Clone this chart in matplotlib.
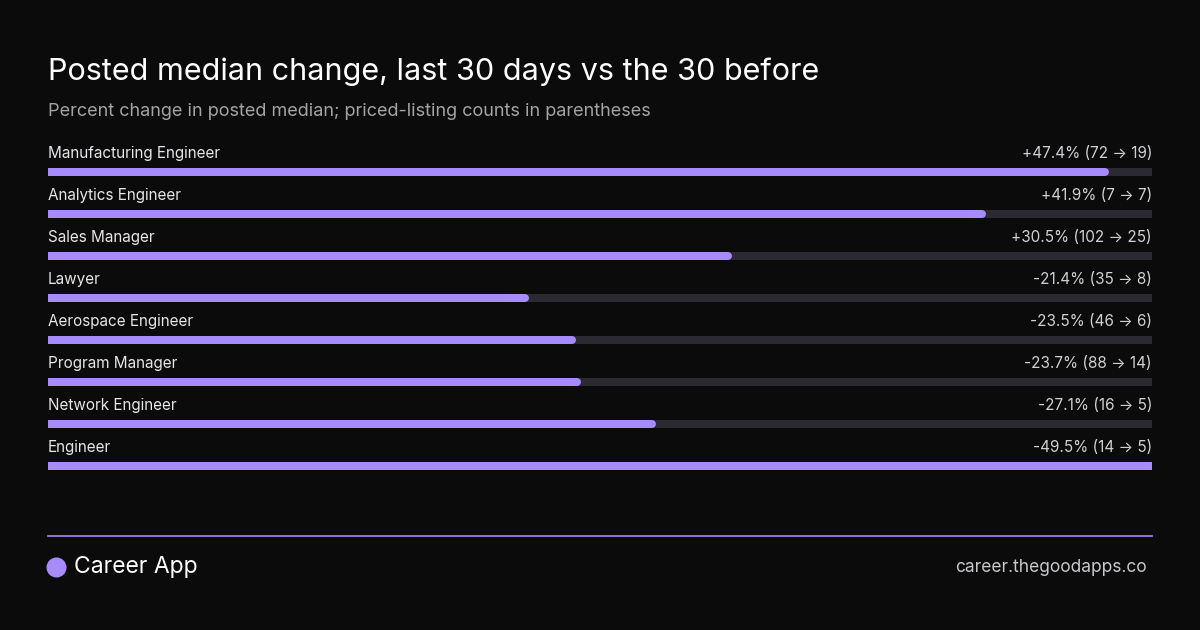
import matplotlib
matplotlib.use('Agg')
import matplotlib.pyplot as plt

# Data.
roles = ['Manufacturing Engineer', 'Analytics Engineer', 'Sales Manager', 'Lawyer',
         'Aerospace Engineer', 'Program Manager', 'Network Engineer', 'Engineer']
changes = [47.4, 41.9, 30.5, -21.4, -23.5, -23.7, -27.1, -49.5]
before = [72, 7, 102, 35, 46, 88, 16, 14]
after = [19, 7, 25, 8, 6, 14, 5, 5]

BG = '#0b0b0c'
PURPLE = '#a78bfa'
TRACK = '#2b2a33'
plt.rcParams['font.family'] = ['Inter', 'DejaVu Sans']

W, H = 1200, 630
fig = plt.figure(figsize=(12, 6.3), dpi=100, facecolor=BG)

# Full-figure overlay in pixel units for titles and footer.
ov = fig.add_axes([0, 0, 1, 1])
ov.set_xlim(0, W)
ov.set_ylim(H, 0)
ov.axis('off')
ov.text(48, 72, 'Posted median change, last 30 days vs the 30 before', color='white',
        fontsize=22, va='center')
ov.text(48, 111, 'Percent change in posted median; priced-listing counts in parentheses',
        color='#a3a3a8', fontsize=13, va='center')
ov.plot([48, 1152], [536, 536], color=PURPLE, lw=1.2)
ov.scatter([56], [567], s=180, color=PURPLE, zorder=3)
ov.text(74, 567, 'Career App', color='white', fontsize=16.5, va='center')
ov.text(1147, 567, 'career.thegoodapps.co', color='#c8c8cc', fontsize=12.5,
        va='center', ha='right')

# Bars axes: rows in index units, x in percent magnitude.
top_px, bot_px = 172 - 0.8 * 42, 172 + 7.5 * 42
ax = fig.add_axes([48 / W, 1 - bot_px / H, 1104 / W, (bot_px - top_px) / H])
ax.set_facecolor('none')
ax.axis('off')
vmax = max(abs(c) for c in changes)
ax.set_xlim(0, vmax)
ax.set_ylim(7.5, -0.8)
lw = 8 * 72 / 100
for i, (r, c, b, a) in enumerate(zip(roles, changes, before, after)):
    ax.plot([0, vmax], [i, i], color=TRACK, lw=lw, solid_capstyle='round')
    ax.plot([0, abs(c)], [i, i], color=PURPLE, lw=lw, solid_capstyle='round')
    ax.text(0, i - 0.43, r, color='#e6e6ea', fontsize=11, va='center')
    ax.text(vmax, i - 0.43, f'{c:+.1f}% ({b} \u2192 {a})', color='#d0d0d4',
            fontsize=11, va='center', ha='right')

fig.savefig('out.png', dpi=100, facecolor=BG)
